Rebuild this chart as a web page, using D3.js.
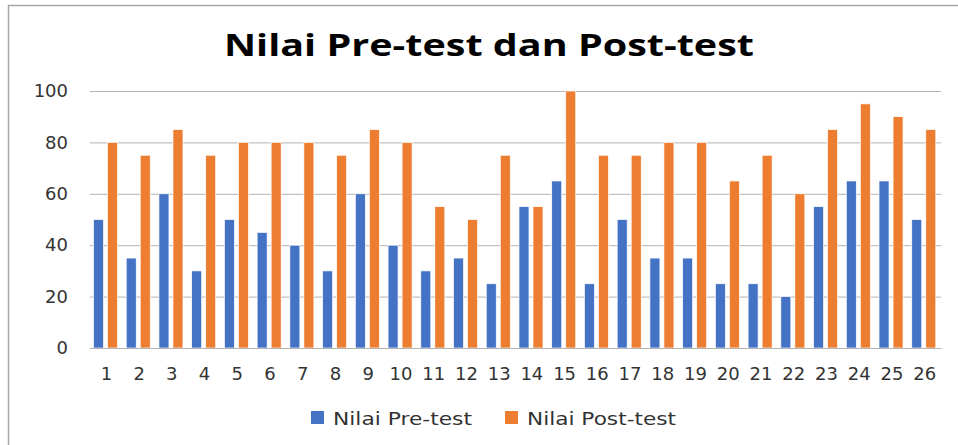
<!DOCTYPE html>
<html>
<head>
<meta charset="utf-8">
<script src="https://cdn.jsdelivr.net/npm/d3@7"></script>
<style>
  body { margin: 0; background: #fff; }
  svg { display: block; }
  .tick text { font-family: "DejaVu Sans", sans-serif; font-size: 18px; fill: #333; }
</style>
</head>
<body>
<svg id="chart" width="958" height="445"></svg>
<script>
// data
var categories = ["1","2","3","4","5","6","7","8","9","10","11","12","13","14","15","16","17","18","19","20","21","22","23","24","25","26"];
var preTest  = [50,35,60,30,50,45,40,30,60,40,30,35,25,55,65,25,50,35,35,25,25,20,55,65,65,50];
var postTest = [80,75,85,75,80,80,80,75,85,80,55,50,75,55,100,75,75,80,80,65,75,60,85,95,90,85];
var seriesNames = ["Nilai Pre-test", "Nilai Post-test"];
var seriesColors = ["#4472C4", "#ED7D31"];
var yTicks = [0, 20, 40, 60, 80, 100];

var svg = d3.select("#chart");
var margin = {top: 91, right: 17, bottom: 97, left: 90};
var width = 958 - margin.left - margin.right,
    height = 445 - margin.top - margin.bottom;

// chart frame (only top/left visible in the crop)
svg.append("rect")
    .attr("x", 8.5).attr("y", 5.5)
    .attr("width", 1000).attr("height", 1000)
    .attr("fill", "none")
    .attr("stroke", "#a6a6a6")
    .attr("stroke-width", 1.5);

svg.append("text")
    .attr("x", 224).attr("y", 56)
    .attr("font-family", "'Open Sans', sans-serif")
    .attr("font-weight", "bold")
    .attr("font-size", 31)
    .attr("textLength", 530)
    .attr("lengthAdjust", "spacingAndGlyphs")
    .attr("fill", "#000")
    .text("Nilai Pre-test dan Post-test");

var g = svg.append("g").attr("transform", "translate(" + margin.left + "," + margin.top + ")");

var x = d3.scaleBand().domain(categories).range([0, width]).paddingInner(0).paddingOuter(0);
var x1 = d3.scaleBand().domain([0, 1]).range([0, x.bandwidth()]).paddingInner(0.2857).paddingOuter(0.31).align(0.4);
var y = d3.scaleLinear().domain([0, 100]).range([height, 0]);

// gridlines + y labels
var yAxis = d3.axisLeft(y).tickValues(yTicks).tickSize(-width).tickPadding(22);
g.append("g").attr("class", "y axis").call(yAxis)
  .call(function(a) {
    a.select(".domain").remove();
    a.selectAll(".tick line").attr("stroke", "#b3b3b3");
  });

var rows = categories.map(function(c, i) { return {cat: c, vals: [preTest[i], postTest[i]]}; });

var groups = g.selectAll(".grp").data(rows).enter().append("g")
    .attr("class", "grp")
    .attr("transform", function(d) { return "translate(" + x(d.cat) + ",0)"; });

groups.selectAll("rect")
    .data(function(d) { return d.vals.map(function(v, k) { return {k: k, v: v}; }); })
    .enter().append("rect")
    .attr("x", function(d) { return x1(d.k); })
    .attr("y", function(d) { return y(d.v); })
    .attr("width", x1.bandwidth())
    .attr("height", function(d) { return y(0) - y(d.v); })
    .attr("fill", function(d) { return seriesColors[d.k]; })
    .attr("stroke", "#fff")
    .attr("stroke-width", 0.7);

// x axis
var xAxis = d3.axisBottom(x).tickSize(0).tickPadding(19);
g.append("g").attr("class", "x axis")
    .attr("transform", "translate(0," + height + ")")
    .call(xAxis)
    .call(function(a) {
      a.select(".domain").attr("stroke", "#b3b3b3");
    });

// legend
var legendX = [311, 505];
var legendW = [139, 149];
var legend = svg.selectAll(".legend").data(seriesNames).enter().append("g")
    .attr("class", "legend")
    .attr("transform", function(d, i) { return "translate(" + legendX[i] + ",411)"; });
legend.append("rect")
    .attr("width", 13).attr("height", 13)
    .attr("fill", function(d, i) { return seriesColors[i]; });
legend.append("text")
    .attr("x", 22).attr("y", 13.5)
    .attr("font-family", "'DejaVu Sans', sans-serif")
    .attr("font-size", 18)
    .attr("textLength", function(d, i) { return legendW[i]; })
    .attr("lengthAdjust", "spacingAndGlyphs")
    .attr("fill", "#333")
    .text(function(d) { return d; });
</script>
</body>
</html>
